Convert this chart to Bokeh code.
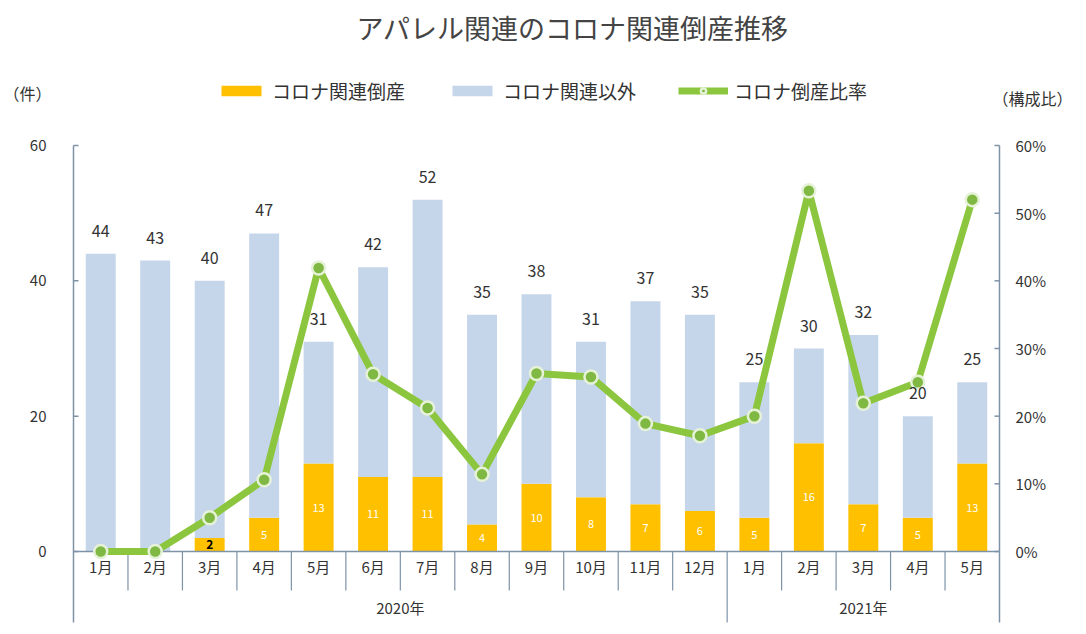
from bokeh.plotting import figure
from bokeh.models import Range1d, Legend, LegendItem, ColumnDataSource
from bokeh.core.properties import value
from bokeh.embed import file_html
from bokeh.resources import INLINE

# ---- data ----
months = ["1月", "2月", "3月", "4月", "5月", "6月", "7月", "8月", "9月", "10月", "11月", "12月",
          "1月", "2月", "3月", "4月", "5月"]
years = ["2020年", "2021年"]
year_month_counts = [12, 5]
totals = [44, 43, 40, 47, 31, 42, 52, 35, 38, 31, 37, 35, 25, 30, 32, 20, 25]
corona = [0, 0, 2, 5, 13, 11, 11, 4, 10, 8, 7, 6, 5, 16, 7, 5, 13]
ratio_pct = [0.0, 0.0, 5.0, 10.6, 41.9, 26.2, 21.2, 11.4, 26.3, 25.8, 18.9, 17.1, 20.0,
             53.3, 21.9, 25.0, 52.0]
left_ticks = [0, 20, 40, 60]
right_ticks = [0, 10, 20, 30, 40, 50, 60]
title_text = "アパレル関連のコロナ関連倒産推移"
left_unit = "（件）"
right_unit = "（構成比）"

FONT = "Noto Sans CJK JP"
ORANGE = "#FFC000"
BLUE = "#C6D6EA"
GREEN = "#8CC63F"
AXIS = "#7F93A8"
TXT = "#333333"

W, H = 1076, 626
n = len(months)
xs = list(range(n))

# layout geometry (canvas px)
FRAME_L, FRAME_R = 73, 999
Y0_PX, Y60_PX, YB_PX = 551, 145, 622
PX_PER_CAT = (FRAME_R - FRAME_L) / n
PX_PER_UNIT = (Y0_PX - Y60_PX) / 60.0


def dx(px):
    return (px - FRAME_L) / PX_PER_CAT - 0.5


def dy(py):
    return (Y0_PX - py) / PX_PER_UNIT


X_L, X_R = -0.5, n - 0.5
Y_BOTTOM = dy(YB_PX)
Y_TOP = 60

src = ColumnDataSource(dict(
    x=xs, corona=corona, totals=totals, ratio=ratio_pct,
    tot_lbl=[str(t) for t in totals],
    month=months,
))

p = figure(width=W, height=H, x_range=Range1d(dx(0), dx(W)), y_range=Range1d(dy(H), dy(0)),
           x_axis_location=None, y_axis_location=None,
           output_backend="svg", toolbar_location=None,
           min_border_left=0, min_border_right=0, min_border_top=0, min_border_bottom=0)
p.grid.visible = False
p.outline_line_color = None

# bars
bw = 0.55
r_cor = p.vbar(x="x", top="corona", bottom=0, width=bw, fill_color=ORANGE, line_color=None, source=src)
r_oth = p.vbar(x="x", top="totals", bottom="corona", width=bw, fill_color=BLUE, line_color=None, source=src)

# axes lines
p.segment(x0=[X_L, X_R], y0=[Y_TOP, Y_TOP], x1=[X_L, X_R], y1=[Y_BOTTOM, Y_BOTTOM],
          line_color=AXIS, line_width=1.5)
p.segment(x0=[X_L], y0=[0], x1=[X_R], y1=[0], line_color=AXIS, line_width=1.5)

tick_len = 5 / PX_PER_CAT
p.segment(x0=[X_L] * len(left_ticks), y0=left_ticks, x1=[X_L + tick_len] * len(left_ticks),
          y1=left_ticks, line_color=AXIS, line_width=1.5)
p.segment(x0=[X_R] * len(right_ticks), y0=right_ticks, x1=[X_R - tick_len] * len(right_ticks),
          y1=right_ticks, line_color=AXIS, line_width=1.5)

p.text(x=[X_L] * len(left_ticks), y=left_ticks, text=[str(t) for t in left_ticks],
       x_offset=-27, text_align="right", text_baseline="middle",
       text_font=value(FONT), text_font_size="15px", text_color=TXT)
p.text(x=[X_R] * len(right_ticks), y=right_ticks, text=[f"{t}%" for t in right_ticks],
       x_offset=16, text_align="left", text_baseline="middle",
       text_font=value(FONT), text_font_size="15px", text_color=TXT)

# category separators
month_bottom = dy(590)
bounds = []
acc = 0
for c in year_month_counts:
    acc += c
    bounds.append(acc - 0.5)
mseps = [i + 0.5 for i in range(n - 1) if (i + 0.5) not in bounds]
p.segment(x0=mseps, y0=[0] * len(mseps), x1=mseps, y1=[month_bottom] * len(mseps),
          line_color=AXIS, line_width=1.2)
yseps = bounds[:-1]
p.segment(x0=yseps, y0=[0] * len(yseps), x1=yseps, y1=[Y_BOTTOM] * len(yseps),
          line_color=AXIS, line_width=1.2)

# month labels
p.text(x="x", y=0, text="month", source=src, y_offset=15, text_align="center",
       text_baseline="middle", text_font=value(FONT), text_font_size="15px", text_color=TXT)
# year labels
ycent = []
acc = 0
for c in year_month_counts:
    ycent.append(acc + (c - 1) / 2)
    acc += c
p.text(x=ycent, y=[0] * len(ycent), text=years, y_offset=56, text_align="center",
       text_baseline="middle", text_font=value(FONT), text_font_size="15px", text_color=TXT)

# ratio line (percent values share the 0-60 scale with the right axis)
r_line = p.line(x="x", y="ratio", source=src, line_color=GREEN, line_width=7)
r_pts = p.scatter(x="x", y="ratio", source=src, size=13,
                  fill_color="#7FB842", line_color="#E6F2D8", line_width=2.5)

# value labels
p.text(x="x", y="totals", text="tot_lbl", source=src, y_offset=-17, text_align="center",
       text_baseline="bottom", text_font=value(FONT), text_font_size="16px", text_color=TXT)
big = [i for i, c in enumerate(corona) if c >= 3]
small = [i for i, c in enumerate(corona) if 0 < c < 3]
p.text(x=big, y=[corona[i] / 2 for i in big], text=[str(corona[i]) for i in big],
       text_align="center", text_baseline="middle", text_font=value(FONT),
       text_font_size="11px", text_color="white")
p.text(x=small, y=[corona[i] / 2 for i in small], text=[str(corona[i]) for i in small],
       text_align="center", text_baseline="middle", text_font=value(FONT),
       text_font_size="12px", text_color="black", text_font_style="bold")

# title and unit labels
p.text(x=[dx(572)], y=[dy(27)], text=[title_text], text_align="center", text_baseline="middle",
       text_font=value(FONT), text_font_size="27px", text_color="#444444")
p.text(x=[dx(3)], y=[dy(92)], text=[left_unit], text_align="left", text_baseline="middle",
       text_font=value(FONT), text_font_size="16px", text_color=TXT)
p.text(x=[dx(1072)], y=[dy(97)], text=[right_unit], text_align="right", text_baseline="middle",
       text_font=value(FONT), text_font_size="16px", text_color=TXT)

# legend
legend = Legend(items=[
    LegendItem(label="コロナ関連倒産", renderers=[r_cor]),
    LegendItem(label="コロナ関連以外", renderers=[r_oth]),
    LegendItem(label="コロナ倒産比率", renderers=[r_line, r_pts]),
], orientation="horizontal", location=(216, H - 104), border_line_color=None,
    background_fill_alpha=0, glyph_width=50, glyph_height=13, label_standoff=6, spacing=42,
    label_text_font=FONT, label_text_font_size="19px", label_text_color=TXT, margin=0, padding=4)
p.add_layout(legend, "center")

open("out.html", "w").write(file_html(p, INLINE))
